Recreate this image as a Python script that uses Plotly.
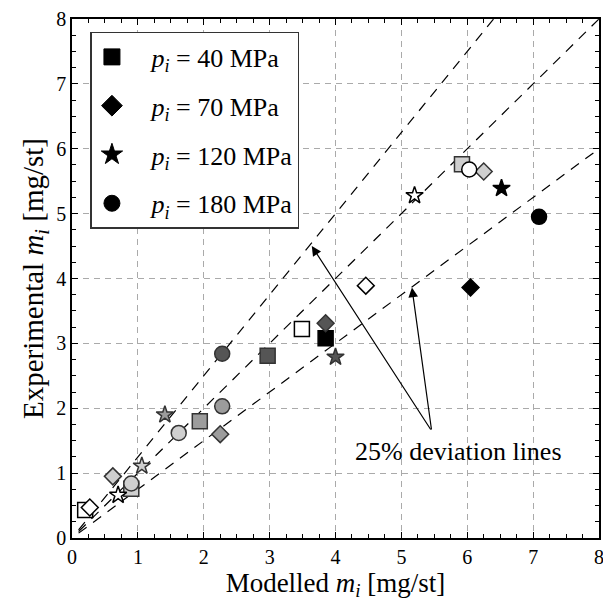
import plotly.graph_objects as go

# shade names -> fill colours
SHADES = {"white": "#ffffff", "light": "#cfcfcf", "mid": "#9c9c9c", "dark": "#555555", "black": "#000000"}

# p_i = 40 MPa (squares)
sq_x = [0.2, 0.9, 1.94, 2.97, 3.49, 3.85, 5.92]
sq_y = [0.43, 0.76, 1.8, 2.81, 3.22, 3.08, 5.76]
sq_shade = ["white", "light", "mid", "dark", "white", "black", "light"]

# p_i = 70 MPa (diamonds)
dm_x = [0.27, 0.62, 2.25, 3.85, 4.46, 6.05, 6.25]
dm_y = [0.47, 0.95, 1.6, 3.31, 3.89, 3.86, 5.65]
dm_shade = ["white", "light", "mid", "dark", "white", "black", "light"]

# p_i = 120 MPa (stars)
st_x = [0.7, 1.06, 1.41, 4.0, 5.2, 6.52]
st_y = [0.66, 1.11, 1.9, 2.79, 5.28, 5.39]
st_shade = ["white", "light", "mid", "dark", "white", "black"]

# p_i = 180 MPa (circles)
ci_x = [0.9, 1.62, 2.28, 2.28, 6.03, 7.09]
ci_y = [0.84, 1.62, 2.03, 2.84, 5.68, 4.95]
ci_shade = ["light", "light", "mid", "dark", "white", "black"]

# 1:1 and +/-25% lines
mid_x, mid_y = [0.1, 8], [0.1, 8]
up_x, up_y = [0.1, 6.4], [0.125, 8]
lo_x, lo_y = [0.1, 8], [0.075, 6]

legend_labels = ["40", "70", "120", "180"]

FONT = "Liberation Serif"

fig = go.Figure()

for lx, ly in [(up_x, up_y), (mid_x, mid_y), (lo_x, lo_y)]:
    fig.add_trace(go.Scatter(x=lx, y=ly, mode="lines", showlegend=False, hoverinfo="skip",
                             line=dict(color="black", width=1.2, dash="10px,8px")))

series = [
    (sq_x, sq_y, sq_shade, "square", 15),
    (dm_x, dm_y, dm_shade, "diamond", 13),
    (st_x, st_y, st_shade, "star", 13),
    (ci_x, ci_y, ci_shade, "circle", 15),
]

for (x, y, shade, sym, size), lab in zip(series, legend_labels):
    fig.add_trace(go.Scatter(
        x=x, y=y, mode="markers", showlegend=False,
        marker=dict(symbol=sym, size=size, color=[SHADES[s] for s in shade],
                    line=dict(color=["black" if s in ("white", "black") else "#333333" for s in shade], width=1.5)),
    ))
    # legend-only entry in black
    fig.add_trace(go.Scatter(
        x=[None], y=[None], mode="markers", legendgroup=lab,
        name=f"&nbsp;&nbsp;&nbsp;<i>p</i><sub><i>i</i></sub>&nbsp;=&nbsp;{lab}&nbsp;MPa",
        marker=dict(symbol=sym, size=16, color="black", line=dict(color="black", width=1)),
    ))

fig.add_annotation(x=3.64, y=4.5, ax=5.46, ay=1.65, xref="x", yref="y", axref="x", ayref="y",
                   text="", showarrow=True, arrowhead=2, arrowsize=1.6, arrowwidth=1.2, arrowcolor="black")
fig.add_annotation(x=5.16, y=3.86, ax=5.46, ay=1.65, xref="x", yref="y", axref="x", ayref="y",
                   text="", showarrow=True, arrowhead=2, arrowsize=1.6, arrowwidth=1.2, arrowcolor="black")
fig.add_annotation(x=5.86, y=1.34, xref="x", yref="y", text="25% deviation lines", showarrow=False,
                   font=dict(family=FONT, size=26, color="black"))

axis_common = dict(
    range=[0, 8], dtick=1, tick0=0, showline=True, linecolor="black", linewidth=1.5,
    mirror="ticks", ticks="inside", ticklen=6, tickcolor="black", automargin=False,
    ticklabeloverflow="allow",
    showgrid=True, gridcolor="#aaaaaa", griddash="6px,5px", gridwidth=1,
    zeroline=False, tickfont=dict(family=FONT, size=20, color="black"),
    minor=dict(ticks="inside", dtick=0.25, ticklen=4, tickcolor="black", showgrid=False),
)

# page body adds an 8px offset, so margins are shifted to keep the plot area in place
fig.update_layout(
    width=611, height=610,
    margin=dict(l=64, r=20, t=11, b=80),
    plot_bgcolor="white", paper_bgcolor="white",
    font=dict(family=FONT, color="black"),
    xaxis=dict(axis_common, title=dict(text="Modelled <i>m</i><sub><i>i</i></sub> [mg/st]",
                                       font=dict(family=FONT, size=27), standoff=2)),
    yaxis=dict(axis_common, title=dict(text="Experimental <i>m</i><sub><i>i</i></sub> [mg/st]",
                                       font=dict(family=FONT, size=29), standoff=4)),
    legend=dict(x=0.035, y=0.975, xanchor="left", yanchor="top", bgcolor="white",
                bordercolor="#333333", borderwidth=1.5, font=dict(family=FONT, size=26),
                tracegroupgap=12, itemsizing="trace"),
    showlegend=True,
)

fig.write_html("out.html")
